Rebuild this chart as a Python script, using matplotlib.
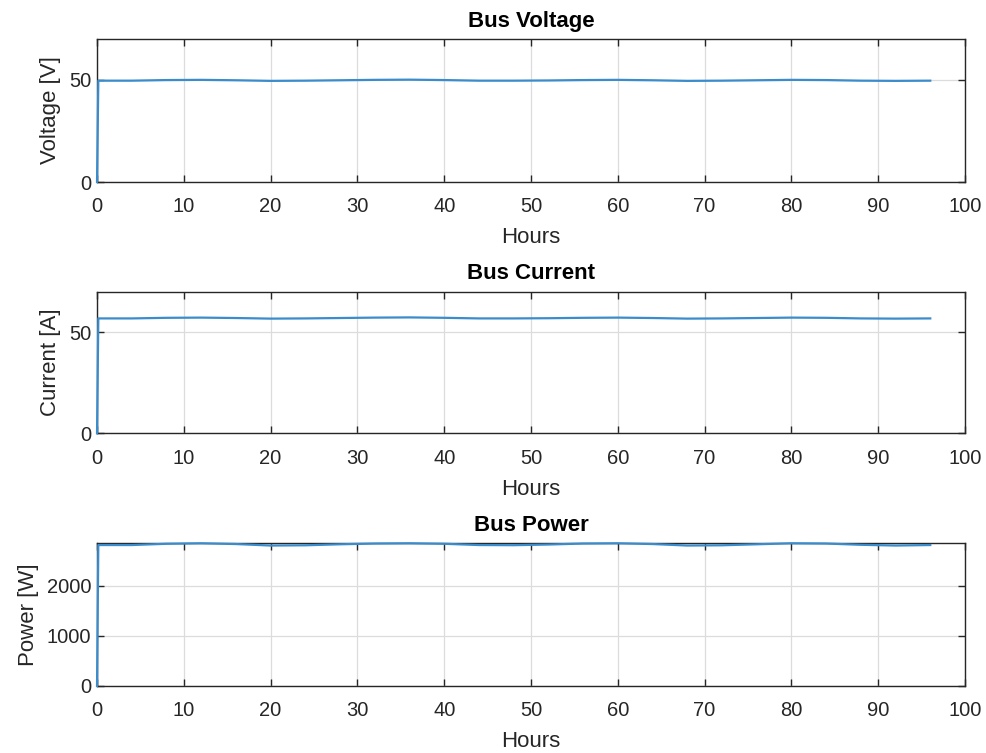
import matplotlib
matplotlib.use("Agg")
import matplotlib.pyplot as plt
import numpy as np

plt.rcParams['font.family'] = ['Liberation Sans', 'DejaVu Sans']

# Sampled bus measurements (hours)
hours = [0, 0.15, 4, 8, 12, 16, 20, 24, 28, 32, 36, 40, 44, 48, 52, 56, 60, 64, 68, 72, 76, 80, 84, 88, 92, 96]
voltage = [0, 49.6, 49.6, 49.9, 50.0, 49.8, 49.5, 49.6, 49.8, 50.0, 50.1, 49.9, 49.6, 49.6, 49.7, 49.9, 50.0, 49.8, 49.5, 49.6, 49.8, 50.0, 49.9, 49.6, 49.5, 49.6]
current = [0, 56.8, 56.8, 57.1, 57.2, 57.0, 56.7, 56.8, 57.0, 57.2, 57.3, 57.1, 56.8, 56.8, 56.9, 57.1, 57.2, 57.0, 56.7, 56.8, 57.0, 57.2, 57.1, 56.8, 56.7, 56.8]
power = [0, 2815, 2815, 2840, 2850, 2835, 2805, 2810, 2830, 2845, 2850, 2840, 2815, 2812, 2825, 2845, 2850, 2835, 2805, 2810, 2830, 2850, 2845, 2820, 2805, 2815]

titles = ["Bus Voltage", "Bus Current", "Bus Power"]
ylabels = ["Voltage [V]", "Current [A]", "Power [W]"]
series = [voltage, current, power]
ylims = [(0, 70), (0, 70), (0, max(power))]
yticks = [[0, 50], [0, 50], [0, 1000, 2000]]
xticks = list(range(0, 101, 10))

txt = '#262626'
fig = plt.figure(figsize=(9.87, 7.53), dpi=100)
positions = [
    [0.0983, 0.7583, 0.8794, 0.1899],
    [0.0983, 0.4245, 0.8794, 0.1881],
    [0.0983, 0.0890, 0.8794, 0.1895],
]

for pos, title, ylab, vals, yl, yt in zip(positions, titles, ylabels, series, ylims, yticks):
    ax = fig.add_axes(pos)
    ax.plot(hours, vals, color='#3a8ccc', lw=1.6, clip_on=False, zorder=3)
    ax.set_xlim(0, 100)
    ax.set_ylim(*yl)
    ax.set_xticks(xticks)
    ax.set_yticks(yt)
    ax.grid(True, color='#dcdcdc', lw=0.9)
    ax.set_axisbelow(True)
    ax.tick_params(direction='in', top=True, right=True, length=5, width=1.0,
                   labelsize=14.5, colors=txt)
    ax.tick_params(axis='x', pad=11)
    ax.tick_params(axis='y', pad=4)
    for s in ax.spines.values():
        s.set_color(txt)
        s.set_linewidth(1.0)
    ax.set_title(title, fontsize=16, fontweight='bold', color='black', pad=9)
    ax.set_xlabel("Hours", fontsize=16, color=txt, labelpad=8)
    ax.set_ylabel(ylab, fontsize=16, color=txt, labelpad=6)

fig.savefig("out.png", dpi=100)
